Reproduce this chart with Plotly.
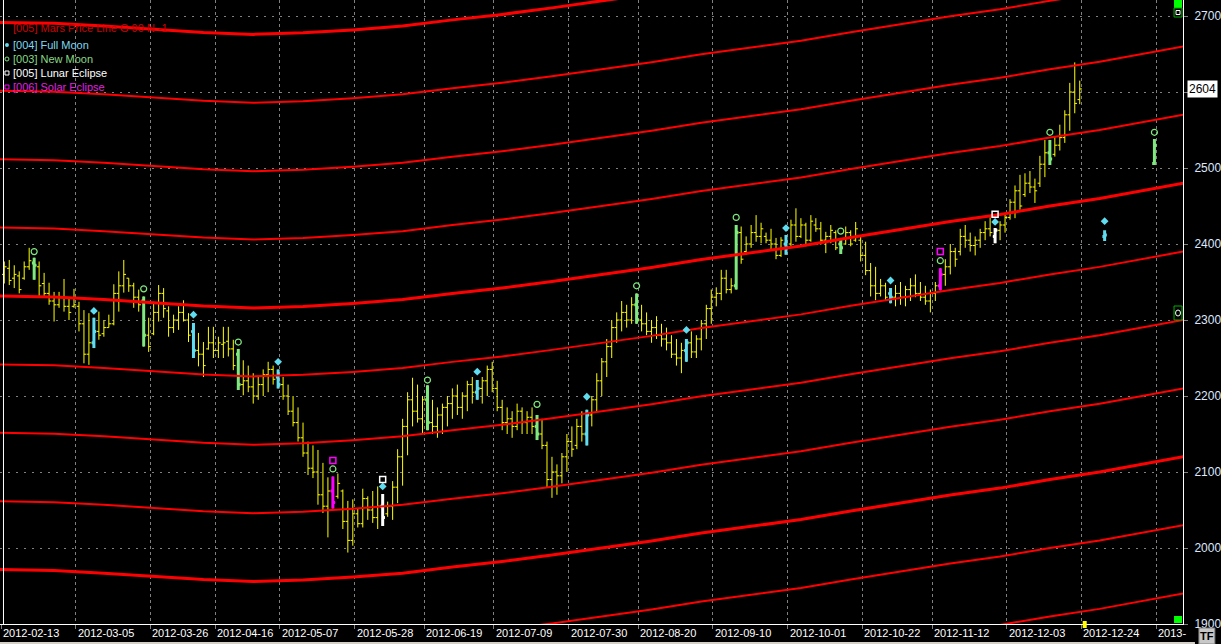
import plotly.graph_objects as go

# ---------------- data ----------------
bar_idx = list(range(217))
highs = [2377,2379,2372,2364,2377,2395,2382,2377,2362,2349,
 2337,2337,2354,2329,2341,2324,2313,2309,2303,2311,
 2300,2307,2347,2364,2379,2355,2349,2340,2331,2303,
 2324,2346,2342,2318,2307,2318,2326,2309,2296,2283,
 2271,2291,2291,2278,2291,2291,2274,2262,2247,2240,
 2230,2225,2235,2245,2240,2235,2225,2215,2200,2185,
 2165,2140,2135,2129,2112,2093,2094,2098,2077,2062,
 2064,2052,2078,2068,2075,2081,2071,2061,2088,2130,
 2170,2205,2224,2215,2200,2214,2195,2185,2190,2200,
 2210,2215,2205,2220,2225,2221,2225,2240,2245,2220,
 2195,2185,2180,2190,2185,2180,2185,2175,2170,2140,
 2120,2110,2125,2150,2160,2170,2180,2182,2200,2230,
 2250,2275,2300,2310,2325,2320,2330,2335,2320,2310,
 2300,2305,2295,2290,2280,2275,2270,2275,2285,2280,
 2300,2320,2340,2343,2366,2366,2355,2425,2423,2410,
 2425,2438,2428,2415,2420,2408,2409,2412,2432,2447,
 2434,2428,2438,2434,2429,2416,2425,2418,2408,2423,
 2418,2429,2410,2403,2375,2370,2354,2349,2342,2346,
 2350,2345,2355,2360,2350,2345,2340,2350,2368,2380,
 2400,2395,2420,2425,2415,2410,2420,2430,2435,2421,
 2430,2440,2459,2477,2491,2493,2496,2486,2516,2537,
 2537,2541,2557,2576,2612,2639,2615]
lows = [2348,2346,2342,2335,2353,2366,2353,2331,2330,2320,
 2298,2316,2311,2300,2316,2285,2243,2241,2263,2274,
 2278,2290,2293,2311,2336,2337,2316,2311,2265,2258,
 2280,2298,2303,2278,2283,2287,2298,2271,2250,2239,
 2225,2261,2250,2250,2250,2252,2234,2208,2201,2205,
 2190,2195,2200,2205,2215,2210,2195,2175,2160,2140,
 2120,2096,2092,2057,2046,2014,2052,2065,2025,1994,
 2003,2027,2027,2037,2033,2025,2029,2041,2037,2059,
 2082,2122,2160,2165,2150,2155,2150,2145,2150,2160,
 2170,2175,2170,2180,2190,2195,2190,2200,2205,2180,
 2155,2150,2145,2155,2150,2150,2150,2142,2130,2080,
 2066,2070,2085,2100,2120,2130,2140,2135,2160,2180,
 2200,2225,2250,2270,2285,2290,2295,2295,2285,2280,
 2270,2275,2265,2260,2250,2240,2230,2245,2250,2250,
 2260,2275,2295,2318,2326,2335,2335,2340,2374,2386,
 2395,2403,2401,2401,2393,2380,2383,2386,2397,2403,
 2408,2397,2403,2416,2399,2388,2401,2392,2387,2399,
 2397,2403,2377,2359,2331,2326,2331,2326,2322,2318,
 2320,2318,2325,2330,2325,2320,2310,2325,2339,2345,
 2360,2370,2385,2395,2390,2385,2395,2405,2410,2401,
 2405,2415,2432,2434,2445,2462,2467,2454,2475,2488,
 2504,2515,2523,2533,2549,2572,2584]
opens = [2360,2368,2355,2358,2355,2370,2375,2370,2348,2335,
 2325,2320,2330,2318,2318,2318,2295,2255,2270,2285,
 2282,2290,2295,2335,2345,2355,2345,2330,2325,2280,
 2282,2310,2335,2312,2290,2300,2310,2300,2285,2260,
 2255,2262,2270,2260,2268,2272,2262,2255,2215,2220,
 2212,2200,2215,2228,2235,2225,2215,2200,2180,2165,
 2145,2125,2105,2100,2070,2055,2075,2068,2075,2035,
 2010,2045,2032,2065,2050,2040,2055,2045,2055,2080,
 2120,2160,2195,2180,2170,2195,2165,2160,2175,2185,
 2190,2200,2185,2200,2215,2205,2210,2220,2235,2210,
 2185,2165,2170,2160,2180,2165,2172,2160,2150,2135,
 2090,2100,2095,2120,2140,2135,2160,2150,2175,2195,
 2220,2245,2265,2290,2300,2310,2300,2320,2300,2295,
 2285,2290,2280,2275,2270,2255,2250,2260,2270,2258,
 2275,2295,2315,2330,2335,2355,2340,2345,2415,2390,
 2400,2415,2410,2410,2405,2400,2385,2400,2400,2425,
 2410,2425,2405,2425,2420,2405,2410,2415,2400,2400,
 2415,2405,2405,2385,2365,2345,2335,2345,2335,2330,
 2335,2330,2340,2345,2335,2330,2325,2335,2345,2360,
 2370,2390,2390,2410,2405,2398,2405,2415,2420,2410,
 2418,2425,2435,2455,2470,2465,2480,2475,2480,2505,
 2520,2518,2530,2540,2570,2600,2590]
closes = [2370,2352,2360,2340,2370,2378,2372,2345,2335,2325,
 2320,2330,2318,2310,2320,2295,2255,2270,2285,2280,
 2290,2295,2335,2345,2360,2345,2330,2320,2280,2265,
 2310,2335,2315,2290,2300,2310,2300,2280,2260,2255,
 2240,2270,2260,2270,2270,2262,2240,2215,2220,2212,
 2200,2215,2228,2235,2222,2215,2200,2180,2165,2145,
 2125,2105,2100,2070,2055,2075,2060,2085,2035,2010,
 2045,2032,2065,2050,2040,2055,2040,2055,2080,2120,
 2160,2195,2180,2170,2195,2165,2160,2175,2185,2190,
 2200,2185,2200,2215,2205,2210,2220,2235,2210,2185,
 2165,2170,2160,2180,2165,2172,2160,2150,2135,2090,
 2100,2095,2120,2140,2130,2160,2150,2175,2195,2220,
 2245,2265,2290,2300,2310,2300,2320,2300,2295,2285,
 2290,2280,2275,2270,2255,2250,2260,2270,2258,2275,
 2295,2315,2330,2335,2355,2340,2345,2415,2380,2400,
 2415,2410,2420,2405,2400,2385,2405,2395,2425,2410,
 2425,2405,2430,2420,2405,2410,2418,2395,2395,2415,
 2400,2420,2385,2365,2345,2335,2345,2330,2330,2335,
 2330,2340,2345,2335,2330,2325,2335,2345,2360,2370,
 2390,2380,2410,2405,2398,2405,2415,2420,2415,2418,
 2425,2435,2455,2470,2450,2480,2475,2470,2505,2520,
 2512,2530,2540,2570,2600,2585,2604]
last_close = 2604

# projected moon bars beyond the last trading bar
future_idx = [221, 231]
future_open = [2410, 2506]
future_high = [2418, 2538]
future_low = [2404, 2504]
future_close = [2412, 2530]

# astro events (bar index) and marker levels
new_moon_idx = [6, 28, 47, 66, 85, 107, 127, 147, 168, 188, 210, 231]
new_moon_mark = [2390, 2341, 2271, 2104, 2221, 2189, 2345, 2435, 2417, 2378, 2547, 2547]
full_moon_idx = [18, 38, 55, 76, 95, 117, 137, 157, 178, 199, 221]
full_moon_mark = [2312, 2307, 2245, 2081, 2232, 2199, 2287, 2421, 2352, 2429, 2430]
lunar_ecl_idx = [76, 199]
lunar_ecl_mark = [2090, 2439]
solar_ecl_idx = [66, 188]
solar_ecl_mark = [2115, 2390]

# Mars price line (base line sampled along the bars) and its 90-point harmonics
mars_idx = [-1, 10, 20, 30, 40, 50, 60, 70, 80, 90, 100, 110, 120, 130, 140, 150,
            160, 170, 180, 190, 200, 210, 220, 230, 237]
mars_base = [2331.6, 2330.3, 2326.9, 2323.0, 2318.4, 2315.8, 2317.8, 2321.7, 2326.9,
             2334.9, 2342.1, 2350.7, 2359.9, 2369.1, 2379.6, 2388.2, 2397.4, 2408.6,
             2419.1, 2429.6, 2438.8, 2450.0, 2459.9, 2471.7, 2480.3]
mars_offsets = [360, 270, 180, 90, 0, -90, -180, -270, -360, -450, -540]

# x-axis date ticks (trading-day index of each grid line) and labels
tick_day = [0, 15, 30, 43, 56, 71, 85, 99, 114, 128, 143, 158, 173, 187, 202, 217, 232]
tick_text = ["2012-02-13", "2012-03-05", "2012-03-26", "2012-04-16", "2012-05-07",
             "2012-05-28", "2012-06-19", "2012-07-09", "2012-07-30", "2012-08-20",
             "2012-09-10", "2012-10-01", "2012-10-22", "2012-11-12", "2012-12-03",
             "2012-12-24", "2013-"]
y_ticks = [1900, 2000, 2100, 2200, 2300, 2400, 2500, 2600, 2700]
# the 2600 label is hidden behind the last-price box in the reference
y_tick_text = ["1900", "2000", "2100", "2200", "2300", "2400", "2500", "", "2700"]

# ---------------- styling ----------------
FONT = "Liberation Sans, Arial, sans-serif"
YELLOW = "#ffff00"
GREEN = "#7fe87f"
CYAN = "#5fdcf0"
WHITE = "#ffffff"
MAGENTA = "#ff00ff"
RED = "#ff0000"
GRID = "#808080"
TICK_OFF = -0.66      # grid lines sit between bars
X_RANGE = [-0.86, 236.74]
Y_RANGE = [1900, 2721.05]
PW, PH = 1188, 624    # plot area in px


def px(x):
    return x / PW


def py(y):
    return (PH - y) / PH


fig = go.Figure()

# Mars price lines
for off in mars_offsets:
    fig.add_trace(go.Scatter(
        x=mars_idx, y=[b + off for b in mars_base], mode="lines",
        line=dict(color=RED, width=3 if off % 360 == 0 else 2),
        hoverinfo="skip"))

# all bars (yellow)
fig.add_trace(go.Ohlc(
    x=bar_idx, open=opens, high=highs, low=lows, close=closes,
    increasing=dict(line=dict(color=YELLOW, width=1)),
    decreasing=dict(line=dict(color=YELLOW, width=1)),
    tickwidth=0.45, hoverinfo="skip"))

bars = {i: (o, h, l, c) for i, o, h, l, c in zip(bar_idx, opens, highs, lows, closes)}
for i, o, h, l, c in zip(future_idx, future_open, future_high, future_low, future_close):
    bars[i] = (o, h, l, c)

groups = [
    ([i for i in new_moon_idx if i not in solar_ecl_idx], GREEN),
    ([i for i in full_moon_idx if i not in lunar_ecl_idx], CYAN),
    (lunar_ecl_idx, WHITE),
    (solar_ecl_idx, MAGENTA),
]
for idxs, col in groups:
    xs = [i for i in idxs if i in bars]
    fig.add_trace(go.Ohlc(
        x=xs, open=[bars[i][0] for i in xs], high=[bars[i][1] for i in xs],
        low=[bars[i][2] for i in xs], close=[bars[i][3] for i in xs],
        increasing=dict(line=dict(color=col, width=3)),
        decreasing=dict(line=dict(color=col, width=3)),
        tickwidth=0.45, hoverinfo="skip"))

# event markers
fig.add_trace(go.Scatter(x=new_moon_idx, y=new_moon_mark, mode="markers", hoverinfo="skip",
                         marker=dict(symbol="circle-open", size=6, color=GREEN, line=dict(width=1.2))))
fig.add_trace(go.Scatter(x=full_moon_idx, y=full_moon_mark, mode="markers", hoverinfo="skip",
                         marker=dict(symbol="diamond", size=6, color=CYAN)))
fig.add_trace(go.Scatter(x=lunar_ecl_idx, y=lunar_ecl_mark, mode="markers", hoverinfo="skip",
                         marker=dict(symbol="square-open", size=6, color=WHITE, line=dict(width=1.5))))
fig.add_trace(go.Scatter(x=solar_ecl_idx, y=solar_ecl_mark, mode="markers", hoverinfo="skip",
                         marker=dict(symbol="square-open", size=6, color=MAGENTA, line=dict(width=1.5))))

annotations = []
# x labels, left aligned at each grid line
for d, t in zip(tick_day, tick_text):
    annotations.append(dict(x=d + TICK_OFF, y=py(633), xref="x", yref="paper", text=t,
                            showarrow=False, xanchor="left", yanchor="middle", xshift=0,
                            font=dict(family=FONT, size=11, color="#ffffff")))

# legend texts
legend = [("[005] Mars Price Line G 90 N -1", "#d00000", 28),
          ("[004] Full Moon", "#7fd8f0", 45),
          ("[003] New Moon", "#86d886", 59),
          ("[005] Lunar Eclipse", "#ffffff", 73),
          ("[006] Solar Eclipse", "#e020e0", 87)]
for t, c, yy in legend:
    annotations.append(dict(x=px(11), y=py(yy), xref="paper", yref="paper", text=t,
                            showarrow=False, xanchor="left", yanchor="middle",
                            font=dict(family=FONT, size=11, color=c)))

# last price box
annotations.append(dict(x=px(1192), y=last_close, xref="paper", yref="y", text=str(last_close),
                        showarrow=False, xanchor="left", yanchor="middle", bgcolor="#ffffff",
                        borderpad=1, font=dict(family=FONT, size=12, color="#000000")))
# TF button
annotations.append(dict(x=px(1212), y=py(636), xref="paper", yref="paper", text="<b>TF</b>",
                        showarrow=False, xanchor="center", yanchor="middle",
                        font=dict(family=FONT, size=11, color="#000000")))

shapes = [
    # left white frame line
    dict(type="line", xref="paper", yref="paper", x0=px(3.5), x1=px(3.5), y0=0, y1=1,
         line=dict(color="#ffffff", width=1)),
    # legend glyphs
    dict(type="circle", xref="paper", yref="paper", x0=px(5), x1=px(9), y0=py(47), y1=py(43),
         fillcolor=CYAN, line=dict(color=CYAN, width=0)),
    dict(type="circle", xref="paper", yref="paper", x0=px(5), x1=px(9), y0=py(61), y1=py(57),
         line=dict(color=GREEN, width=1)),
    dict(type="rect", xref="paper", yref="paper", x0=px(5), x1=px(9), y0=py(75), y1=py(71),
         line=dict(color=WHITE, width=1)),
    dict(type="rect", xref="paper", yref="paper", x0=px(5), x1=px(9), y0=py(89), y1=py(85),
         line=dict(color=MAGENTA, width=1)),
    # right-edge scroll markers
    dict(type="rect", xref="paper", yref="paper", x0=px(1179), x1=px(1187), y0=py(8), y1=py(0),
         fillcolor="#00ff00", line=dict(width=0)),
    dict(type="rect", xref="paper", yref="paper", x0=px(1179), x1=px(1187), y0=py(17), y1=py(8),
         fillcolor="#000000", line=dict(color="#00b000", width=1)),
    dict(type="rect", xref="paper", yref="paper", x0=px(1181), x1=px(1185), y0=py(14.5), y1=py(10.5),
         line=dict(color="#ffffff", width=1)),
    dict(type="rect", xref="paper", yref="paper", x0=px(1179), x1=px(1187), y0=py(320), y1=py(306),
         fillcolor="#000000", line=dict(color="#00b000", width=1)),
    dict(type="circle", xref="paper", yref="paper", x0=px(1180.5), x1=px(1185.5), y0=py(316), y1=py(310),
         line=dict(color="#ffffff", width=1)),
    dict(type="rect", xref="paper", yref="paper", x0=px(1179), x1=px(1187), y0=py(623), y1=py(616),
         fillcolor="#00ff00", line=dict(width=0)),
    # current-bar marker on the time axis
    dict(type="rect", xref="x", yref="paper", x0=216.6, x1=217.4, y0=py(628), y1=py(621),
         fillcolor="#ffff00", line=dict(width=0)),
    # TF button & bottom strip
    dict(type="rect", xref="paper", yref="paper", x0=px(1204), x1=px(1220), y0=py(644), y1=py(628),
         fillcolor="#c8c8c8", line=dict(color="#808080", width=1)),
    dict(type="rect", xref="paper", yref="paper", x0=0, x1=px(1200), y0=py(644), y1=py(642),
         fillcolor="#d4d0c8", line=dict(width=0)),
]

fig.update_layout(
    width=1221, height=644,
    margin=dict(l=0, r=33, t=0, b=20, pad=0),
    paper_bgcolor="#000000", plot_bgcolor="#000000",
    showlegend=False,
    annotations=annotations, shapes=shapes,
    xaxis=dict(range=X_RANGE, rangeslider=dict(visible=False),
               tickvals=[d + TICK_OFF for d in tick_day], showticklabels=False,
               ticks="outside", ticklen=4, tickcolor=GRID,
               showgrid=True, gridcolor=GRID, gridwidth=1, griddash="3px,3px",
               showline=True, linecolor="#ffffff", linewidth=1, zeroline=False),
    yaxis=dict(range=Y_RANGE, side="right", tickvals=y_ticks, ticktext=y_tick_text,
               ticks="outside", ticklen=4, tickcolor=GRID, ticklabelstandoff=4,
               tickfont=dict(family=FONT, size=12, color="#dde8ff"),
               showgrid=True, gridcolor=GRID, gridwidth=1, griddash="2px,6px",
               showline=True, linecolor="#ffffff", linewidth=1, zeroline=False),
)

fig.write_html("out.html", config={"displayModeBar": False},
               post_script="document.body.style.margin='0';document.body.style.overflow='hidden';")
